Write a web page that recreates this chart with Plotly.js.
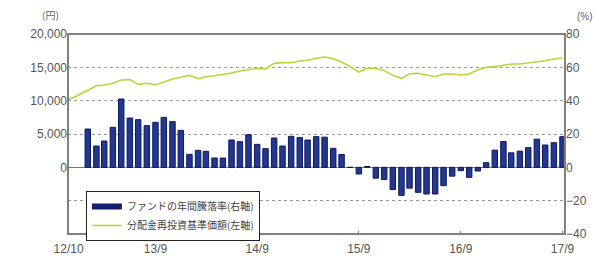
<!DOCTYPE html>
<html>
<head>
<meta charset="utf-8">
<script src="https://cdn.plot.ly/plotly-3.0.1.min.js"></script>
<style>
html,body{margin:0;padding:0;background:#fff;}
#chart{width:599px;height:256px;}
</style>
</head>
<body>
<div id="chart"></div>
<script>
// Monthly data (2012-10 to 2017-09)
var months = [
"2012-10-01","2012-11-01","2012-12-01","2013-01-01","2013-02-01","2013-03-01","2013-04-01","2013-05-01","2013-06-01","2013-07-01","2013-08-01","2013-09-01",
"2013-10-01","2013-11-01","2013-12-01","2014-01-01","2014-02-01","2014-03-01","2014-04-01","2014-05-01","2014-06-01","2014-07-01","2014-08-01","2014-09-01",
"2014-10-01","2014-11-01","2014-12-01","2015-01-01","2015-02-01","2015-03-01","2015-04-01","2015-05-01","2015-06-01","2015-07-01","2015-08-01","2015-09-01",
"2015-10-01","2015-11-01","2015-12-01","2016-01-01","2016-02-01","2016-03-01","2016-04-01","2016-05-01","2016-06-01","2016-07-01","2016-08-01","2016-09-01",
"2016-10-01","2016-11-01","2016-12-01","2017-01-01","2017-02-01","2017-03-01","2017-04-01","2017-05-01","2017-06-01","2017-07-01","2017-08-01","2017-09-01"
];

// Fund annual return (%), right axis
var annualReturn = [
null, null, null, 23, 12.8, 15.8, 24, 41, 29.6, 28.6, 25, 27,
30, 27.4, 22.2, 7.8, 10.2, 9.6, 5.6, 5.6, 16.4, 15.4, 19.6, 13.8,
11.2, 17.6, 12.8, 18.6, 17.9, 16.4, 18.4, 18.1, 11.4, 7.7, 0, -4.0,
0.5, -6.5, -7.3, -13.3, -16.8, -12.5, -15, -16, -16, -11, -5.3, -2,
-6, -2.2, 2.8, 10.3, 15.5, 8.7, 9.7, 11.8, 16.9, 13.4, 14.8, 18.4
];

// NAV with dividends reinvested (yen), left axis
var navReinvested = [
10000, 10300, 10900, 11600, 12250, 12350, 12600, 13100, 13150, 12450, 12600, 12350,
12850, 13250, 13500, 13800, 13300, 13600, 13750, 13900, 14150, 14450, 14700, 14850,
14750, 15600, 15700, 15700, 15950, 16050, 16350, 16550, 16300, 15800, 15100, 14300,
14850, 14850, 14500, 13800, 13350, 14050, 14100, 13850, 13600, 14000, 14000, 13850,
14000, 14650, 15000, 15100, 15350, 15500, 15500, 15650, 15750, 16000, 16250, 16400
];

var xTickVals = ["2012-10-24","2013-09-01","2014-09-01","2015-09-01","2016-09-01","2017-09-01"];
var xTickText = ["12/10","13/9","14/9","15/9","16/9","17/9"];
var leftTickVals = [-5000, 0, 5000, 10000, 15000, 20000];
var leftTickText = ["", "0", "5,000", "10,000", "15,000", "20,000"];
var rightTickVals = [-40, -20, 0, 20, 40, 60, 80];

var seriesNames = ["ファンドの年間騰落率(右軸)", "分配金再投資基準価額(左軸)"];
var barColor = "#22378f";
var lineColor = "#b9d535";

var traces = [
  {
    type: "bar",
    x: months,
    y: annualReturn,
    yaxis: "y2",
    name: seriesNames[0],
    showlegend: false,
    marker: {color: barColor, line: {color: "#0e1a5a", width: 1}}
  },
  // legend key for the bars (wide bar swatch as in the reference)
  {
    type: "scatter",
    mode: "lines",
    x: [null],
    y: [null],
    yaxis: "y2",
    name: seriesNames[0],
    line: {color: "#13206a", width: 6}
  },
  {
    type: "scatter",
    mode: "lines",
    x: months,
    y: navReinvested,
    yaxis: "y",
    name: seriesNames[1],
    line: {color: lineColor, width: 1.6}
  }
];

var tickFont = {family: "Liberation Sans, Arial, sans-serif", size: 12, color: "#555"};

var layout = {
  width: 599,
  height: 256,
  margin: {l: 68, r: 34, t: 34, b: 22, pad: 0},
  paper_bgcolor: "#fff",
  plot_bgcolor: "#fff",
  showlegend: true,
  bargap: 0.3,
  font: {family: "Liberation Sans, Arial, sans-serif", color: "#555"},
  xaxis: {
    type: "date",
    range: ["2012-10-22", "2017-09-10"],
    tickvals: xTickVals,
    ticktext: xTickText,
    tickfont: tickFont,
    ticks: "inside",
    ticklen: 3,
    tickcolor: "#888",
    ticklabelstandoff: 6,
    showgrid: false,
    zeroline: false,
    showline: false
  },
  yaxis: {
    range: [-10000, 20000],
    tickvals: leftTickVals,
    ticktext: leftTickText,
    tickfont: tickFont,
    showgrid: true,
    gridcolor: "#9a9a9a",
    gridwidth: 1,
    griddash: "3px,3px",
    zeroline: true,
    zerolinecolor: "#777",
    zerolinewidth: 1.5,
    showline: false,
    ticks: ""
  },
  yaxis2: {
    overlaying: "y",
    side: "right",
    range: [-40, 80],
    tickvals: rightTickVals,
    tickfont: tickFont,
    showgrid: false,
    zeroline: false,
    showline: false,
    ticks: ""
  },
  legend: {
    x: 0.036, y: 0.215, xanchor: "left", yanchor: "top",
    bgcolor: "#fff",
    bordercolor: "#222",
    borderwidth: 1,
    font: {family: "Noto Sans CJK JP, sans-serif", size: 10, color: "#444"},
    tracegroupgap: 0,
    itemwidth: 30,
    entrywidth: 175
  },
  shapes: [
    {type: "rect", xref: "paper", yref: "paper", x0: 0, x1: 1, y0: 0, y1: 1,
     line: {color: "#808080", width: 2}, fillcolor: "rgba(0,0,0,0)", layer: "above"}
  ],
  annotations: [
    {xref: "paper", yref: "paper", x: -0.035, y: 1.05, xanchor: "center", yanchor: "bottom",
     text: "(円)", showarrow: false, font: {family: "Noto Sans CJK JP, sans-serif", size: 10, color: "#666"}},
    {xref: "paper", yref: "paper", x: 1.04, y: 1.05, xanchor: "center", yanchor: "bottom",
     text: "(%)", showarrow: false, font: {family: "Liberation Sans, Arial, sans-serif", size: 10, color: "#666"}}
  ]
};

Plotly.newPlot("chart", traces, layout, {displayModeBar: false, staticPlot: true});
</script>
</body>
</html>
